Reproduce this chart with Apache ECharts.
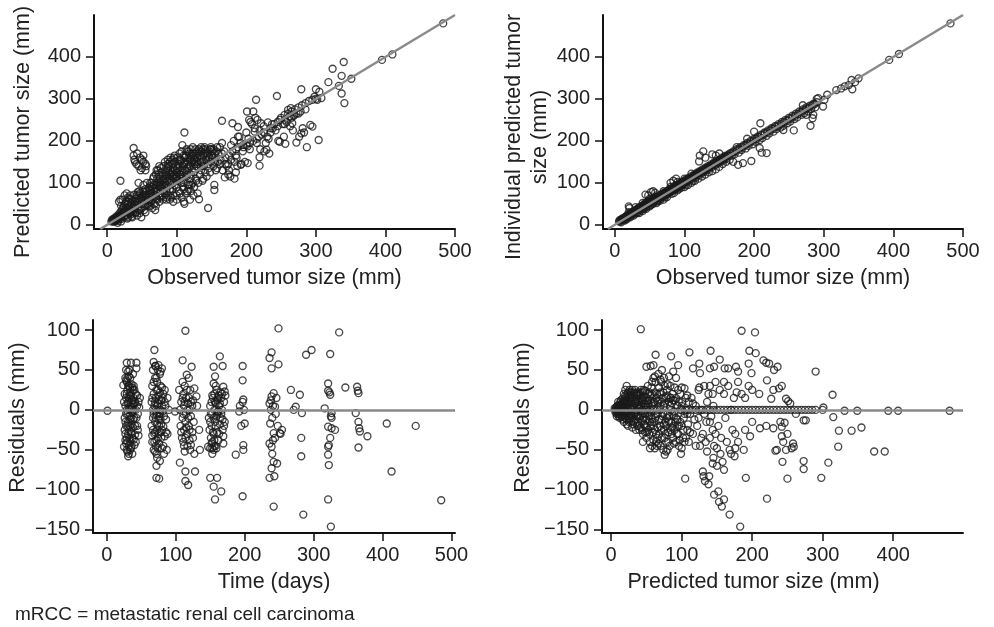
<!DOCTYPE html>
<html>
<head>
<meta charset="utf-8">
<script src="https://cdn.jsdelivr.net/npm/echarts@6/dist/echarts.min.js"></script>
<style>
  html, body { margin: 0; padding: 0; background: #fff; }
  #main { width: 994px; height: 627px; }
</style>
</head>
<body>
<div id="main"></div>
<script>
// [observed, predicted] tumor size (mm)
const predVsObs = [
  [6,8],[8,10],[10,12],[12,9],[14,15],[15,18],[16,10],[18,22],[20,14],[19,30],[17,55],[19,60],[20,45],[13,12],[9,7],[11,14],[16,16],[18,20],[20,25],[15,5],
  [22,20],[24,28],[25,35],[27,40],[28,22],[30,30],[30,55],[32,62],[33,70],[35,48],[36,38],[38,32],[22,60],[25,70],[28,75],[30,65],[34,25],[36,18],[38,45],[40,40],
  [26,50],[23,40],[31,44],[37,58],[39,72],[29,15],[33,33],[35,20],[24,18],[21,35],
  [40,55],[42,62],[44,48],[45,70],[46,80],[48,38],[50,50],[50,60],[52,72],[54,44],[55,85],[56,65],[58,58],[60,70],[41,30],[43,22],[47,28],[49,18],[53,35],[57,100],
  [45,100],[52,95],[59,45],[60,88],[44,78],[48,66],[51,82],[55,30],[58,48],[60,60],
  [38,183],[38,165],[39,155],[40,150],[42,145],[45,140],[47,160],[50,155],[52,150],[55,145],[50,135],[48,130],[55,130],[56,140],[43,170],[52,165],
  [62,75],[63,55],[65,90],[66,68],[68,80],[70,70],[70,95],[72,60],[73,85],[75,100],[76,75],[78,90],[80,82],[62,45],[65,40],[68,50],[72,110],[74,120],[77,65],[79,105],
  [64,100],[67,115],[71,130],[75,140],[78,125],[80,60],[69,35],[63,80],[76,95],[80,115],
  [82,95],[84,110],[85,130],[86,88],[88,140],[90,100],[90,150],[92,120],[94,85],[95,135],[96,160],[98,110],[100,125],[82,75],[85,65],[88,70],[91,80],[93,145],[97,95],[99,140],
  [100,60],[87,155],[95,55],[84,120],[89,125],[98,150],[100,105],[92,65],[86,105],[94,115],
  [102,140],[104,120],[105,150],[106,100],[108,130],[110,145],[110,55],[112,160],[114,115],[115,135],[116,95],[118,170],[120,140],[120,110],[122,150],[124,165],[125,125],
  [103,80],[107,65],[109,90],[113,75],[117,85],[119,60],[121,95],[123,100],[104,155],[111,50],[115,175],[124,70],[108,110],
  [126,145],[128,170],[130,160],[132,180],[134,150],[135,130],[136,175],[138,165],[140,185],[142,155],[144,170],[145,145],[148,180],[150,165],[152,175],[155,160],
  [158,185],[160,170],[127,110],[131,100],[133,120],[137,105],[139,140],[141,125],[143,115],[146,135],[149,150],[153,140],[156,130],[159,150],
  [162,185],[165,195],[168,175],[170,160],[172,140],[175,130],[178,190],[180,175],[182,200],[185,165],[188,185],[190,210],[192,195],[195,175],[198,150],[200,190],
  [200,220],[205,180],[208,240],[210,200],[212,230],[215,195],[218,210],[220,180],[163,155],[166,130],[174,120],[177,115],[183,150],[186,160],[193,145],[196,185],
  [203,205],[206,245],[213,255],[216,250],[219,225],[222,215],[174,145],[187,140],
  [225,235],[228,195],[230,210],[232,205],[235,220],[238,230],[240,240],[242,225],[245,245],[248,250],[250,255],[252,240],[255,250],[258,245],[260,265],[262,258],
  [265,270],[268,260],[270,275],[272,265],[275,280],[278,270],[280,285],[285,290],[290,295],[295,298],[300,300],[226,175],[233,170],[237,240],[246,200],[254,210],
  [263,235],[267,225],[276,210],[283,220],[292,238],[298,305],[302,298],
  [483,480],[410,406],[395,393],[351,348],[340,388],[324,372],[337,355],[318,340],[333,331],[337,313],[341,290],[308,302],[300,323],[305,317],[279,323],
  [304,202],[287,185],[295,234],[281,230],[272,196],[279,218],[266,242],[260,274],[264,278],[269,262],[255,262],[244,307],[248,198],[256,193],[231,244],
  [212,222],[214,298],[201,270],[210,270],[204,250],[221,242],[229,179],[219,161],[219,141],[202,147],[192,143],[185,125],[183,110],[169,113],[165,248],
  [188,233],[180,242],[188,210],[202,187],[154,83],[154,95],[132,61],[145,40],[111,220],[108,190],[19,105],
  [7,12],[9,14],[11,10],[12,18],[14,20],[16,24],[17,14],[19,18],[21,26],[23,30],[24,45],[26,32],[27,55],[29,48],[31,38],[32,28],[34,52],[35,60],[37,42],[39,50],
  [41,48],[42,70],[43,55],[46,58],[47,75],[49,62],[51,68],[53,78],[54,58],[56,72],[57,80],[59,66],[61,82],[62,92],[64,72],[66,85],[67,95],[69,88],[71,80],[72,100],
  [74,92],[75,110],[77,102],[79,95],[81,108],[83,100],[84,125],[86,118],[87,135],[89,110],[91,130],[92,105],[93,125],[95,145],[96,120],[97,130],[99,115],[101,135],
  [103,145],[105,130],[106,155],[107,120],[109,140],[111,150],[112,130],[113,165],[116,150],[117,160],[118,140],[119,155],[121,165],[122,130],[123,170],[125,150],
  [126,160],[128,140],[129,175],[130,145],[133,165],[134,175],[136,160],[137,150],[139,170],[141,180],[143,165],[146,175],[147,160],[150,180],[151,160],[154,170],
  [157,175],[30,18],[40,28],[50,40],[60,52],[70,62],[80,70],[90,85],[100,90],[110,100],[120,120],[20,8],[25,22],[35,30],[45,35],[55,48],[65,60],[75,68],[85,80],
  [95,100],[105,110],[115,120],[125,135],[135,140],[145,155],[155,150],[165,170],[175,165],[185,180],[195,190],[205,195],[215,205],[225,220],[235,230],[245,235],
  [255,240],[265,255],[275,265],[285,275],
  [62,100],[66,110],[70,120],[73,130],[77,135],[81,140],[83,150],[87,145],[91,160],[94,155],[97,165],[101,160],[104,170],[107,175],[110,165],[114,180],[117,175],
  [120,180],[123,185],[127,180],[131,170],[135,185],[138,180],[142,175],[149,185],[153,180],[90,120],[95,110],[100,115],[105,120],[110,125],[115,145],[120,160],
  [125,155],[130,150],[70,45],[75,55],[85,60],[95,70],[105,75],[115,80],[125,90],[130,75],[120,80],[100,70],[90,60],[110,85],[118,95],[128,105],[138,110],
  [148,125],[158,135],[162,145],[170,145],[178,155]
];

// [observed, individual predicted] tumor size (mm)
const ipredVsObs = [
  [6,8],[8,9],[10,12],[12,11],[13,16],[15,14],[16,20],[18,17],[19,24],[20,19],[22,23],[23,28],[24,22],[25,30],[26,27],[28,32],[29,26],[30,35],[14,10],[17,13],
  [20,44],[21,40],[11,15],[9,6],[27,22],
  [31,33],[32,38],[33,30],[34,40],[35,36],[36,42],[37,34],[38,44],[39,40],[40,46],[41,38],[42,48],[43,45],[44,52],[45,42],[46,50],[47,55],[48,46],[49,52],[50,58],
  [51,48],[52,55],[53,60],[54,51],[55,62],[56,54],[57,65],[58,58],[59,63],[60,56],[44,72],[48,70],[52,78],[55,80],[58,76],[35,28],[40,33],[45,38],[50,44],[55,50],[60,52],
  [61,65],[62,60],[63,68],[64,63],[65,70],[66,64],[67,72],[68,66],[69,75],[70,68],[71,76],[72,70],[73,78],[74,72],[75,80],[76,74],[77,82],[78,76],[79,85],[80,78],
  [81,86],[82,80],[83,88],[84,82],[85,92],[86,84],[87,90],[88,86],[89,95],[90,88],[91,96],[92,90],[93,100],[94,92],[95,98],[96,94],[97,102],[98,96],[99,104],[100,97],
  [80,100],[84,105],[88,110],[70,60],[75,66],[85,76],[90,82],[95,88],[100,90],[65,58],
  [102,108],[104,103],[106,112],[108,106],[110,116],[112,110],[114,120],[116,113],[118,124],[120,118],[122,128],[124,122],[126,132],[128,126],[130,136],[132,130],
  [134,140],[136,134],[138,144],[140,138],[142,148],[144,142],[146,152],[148,146],[150,155],[152,150],[154,160],[156,154],[158,164],[160,158],
  [105,95],[110,100],[115,105],[120,110],[125,115],[130,120],[135,125],[140,128],[145,132],[150,138],[155,145],[160,150],[122,165],[127,175],[121,151],[130,160],
  [140,168],[150,170],[145,165],
  [162,166],[165,170],[168,165],[170,175],[172,168],[175,180],[178,172],[180,185],[182,178],[185,190],[188,182],[190,195],[192,188],[195,200],[198,192],[200,205],
  [202,198],[205,210],[208,202],[210,215],[212,207],[215,220],[218,212],[220,225],[222,218],[225,230],[228,222],[230,235],[165,155],[170,150],[177,143],[184,147],
  [196,152],[208,183],[211,172],[218,171],[209,242],[200,222],[190,205],[175,185],
  [232,228],[235,240],[238,232],[240,245],[242,236],[245,250],[248,242],[250,255],[252,246],[255,260],[258,252],[260,265],[262,256],[265,270],[268,262],[270,275],
  [272,266],[275,280],[278,270],[280,284],[282,276],[285,288],[288,280],[290,292],[242,226],[257,225],[281,236],[284,254],[270,285],[275,262],[285,262],[290,300],
  [292,302],[299,282],[301,298],[305,310],
  [318,321],[325,325],[330,330],[336,333],[340,345],[341,323],[345,340],[350,349],[394,393],[408,407],[482,480],
  [7,11],[9,13],[11,13],[13,13],[15,19],[17,21],[19,21],[21,25],[23,25],[25,27],[27,31],[29,33],[31,36],[33,36],[35,39],[37,41],[39,43],[41,44],[43,48],[45,49],
  [47,51],[49,55],[51,55],[53,57],[55,59],[57,61],[59,66],[61,63],[63,66],[65,67],[67,70],[69,72],[71,73],[73,76],[75,77],[77,79],[79,82],[81,83],[83,86],[85,87],
  [87,88],[89,91],[91,93],[93,95],[95,96],[97,99],[99,101],[101,103],[103,106],[105,108],[107,109],[109,112],[111,113],[113,116],[115,117],[117,120],[119,121],
  [121,124],[123,126],[125,128],[127,129],[129,132],[131,133],[133,136],[135,137],[137,140],[139,141],[141,144],[143,146],[145,148],[147,149],[149,152],[151,153],
  [153,156],[155,157],[157,160],[159,161],[161,164],[163,165],[167,170],[171,173],[175,177],[179,181],[183,185],[187,189],[191,193],[195,197],[199,201],[203,205],
  [207,209],[211,213],[215,217],[219,221],[223,225],[227,229],[231,233],[235,236],[239,240],[243,245],[247,248],[251,252],[255,256],[259,260],[263,264],[267,268],
  [271,272],[275,276],[279,280],[283,284],[287,288],[20,30],[30,42],[40,52],[50,62],[60,70],[70,80],[80,90],[90,102],[100,110],[110,122],[22,18],[32,28],[42,38],
  [52,47],[62,56],[72,65],[82,74],[92,85],[102,94],[112,104]
];

// [time (days), residual (mm)]
const resVsTime = [
  [1,-1],
  [24,31],[25,-46],[26,20],[26,-10],[27,5],[27,-30],[28,37],[28,15],[28,-20],[29,59],[29,-50],[29,0],[30,25],[30,-5],[30,-40],[31,48],[31,-58],[31,10],[31,-15],
  [32,30],[32,-25],[32,2],[33,18],[33,-35],[33,-8],[34,22],[34,-12],[34,40],[35,59],[35,5],[35,-28],[36,12],[36,-18],[36,-45],[37,28],[37,-3],[38,8],[38,-22],
  [38,45],[39,-37],[39,15],[40,-10],[40,25],[41,-31],[41,10],[42,0],[42,-40],[43,59],[43,52],[44,-20],[44,18],[45,-5],[46,10],[46,-32],[47,3],[48,15],[30,-52],
  [33,50],[27,-38],[29,35],[35,-48],[37,-55],[32,42],[36,32],[40,-44],
  [25,10],[26,-25],[27,40],[27,-15],[28,-5],[28,50],[29,20],[29,-35],[30,8],[30,-20],[31,30],[31,-30],[32,-45],[32,15],[33,0],[33,-20],[34,28],[34,-40],[35,18],
  [35,-10],[36,-30],[36,2],[37,12],[37,-35],[38,25],[38,-12],[39,0],[39,30],[40,8],[41,-20],[42,20],[43,-10],[44,5],[45,-25],[30,40],[32,-55],[34,-50],[28,-42],
  [65,10],[65,-20],[66,30],[66,-40],[67,0],[67,-10],[68,60],[68,20],[68,-50],[69,75],[69,-30],[69,5],[70,-52],[70,40],[70,-15],[71,15],[71,-45],[72,-85],[72,-70],
  [72,25],[72,-5],[73,35],[73,-25],[74,50],[74,8],[74,-35],[75,56],[75,-12],[75,18],[76,-8],[76,-42],[77,-64],[77,22],[77,45],[78,0],[78,-28],[79,12],[79,-18],
  [80,52],[80,28],[80,-48],[81,-2],[82,-21],[82,20],[83,-55],[84,-33],[84,10],[85,5],[86,-12],[87,-50],[88,-30],[88,15],[90,0],[71,55],[73,-60],[76,-86],[78,48],
  [66,-32],[67,50],
  [66,15],[67,-25],[68,-5],[68,35],[69,-40],[70,10],[70,-28],[71,0],[71,-10],[72,40],[72,-38],[73,5],[73,-18],[74,25],[74,-48],[75,0],[75,-30],[76,12],[76,-20],
  [77,-5],[78,30],[78,-12],[79,-35],[80,5],[80,-25],[81,15],[82,-45],[83,-8],[84,25],[86,-28],[72,-55],[70,55],
  [99,-2],[105,25],[106,-66],[106,0],[107,-20],[108,10],[109,-35],[110,62],[110,-10],[111,20],[111,-40],[112,5],[112,-25],[113,30],[114,99],[114,-77],[114,-89],
  [114,-15],[115,-5],[115,15],[116,44],[116,-30],[117,-45],[118,-94],[118,8],[119,-20],[120,0],[120,-38],[121,25],[122,-8],[123,54],[124,-28],[125,12],[126,-15],
  [127,27],[127,-55],[128,-77],[130,17],[131,5],[134,-25],[135,-50],[110,35],[113,-52],[119,40],[122,-44],
  [108,-28],[110,15],[111,-5],[112,-45],[113,10],[114,-35],[115,-22],[116,25],[117,0],[118,-10],[119,15],[120,-25],[121,-50],[122,10],[124,5],[125,-35],
  [147,-46],[148,-10],[149,-25],[150,-85],[150,5],[150,-48],[151,-35],[152,10],[152,-20],[153,-5],[153,-40],[154,15],[155,54],[155,33],[155,-50],[155,-96],[155,-30],
  [156,0],[156,20],[157,42],[157,-112],[157,-15],[158,-45],[158,8],[159,-8],[159,25],[160,-85],[160,-28],[160,12],[161,-2],[162,18],[162,-38],[163,5],[164,67],
  [164,-18],[165,22],[165,-10],[166,-102],[166,15],[167,0],[168,55],[168,-25],[169,29],[169,-33],[169,-42],[170,10],[171,23],[171,-15],[172,18],[160,-5],[153,-55],[158,30],
  [150,-15],[151,-5],[152,-42],[153,18],[154,-28],[155,-10],[156,-38],[157,10],[158,-20],[159,-48],[161,15],[162,-2],[163,-30],[164,8],[166,-5],[167,20],[168,-12],
  [170,-20],[153,-48],[156,-45],
  [187,-56],[192,-2],[193,5],[197,55],[197,37],[197,10],[197,-108],[198,13],[198,-44],[198,-50],[200,-17],[199,0],[195,-20],
  [236,65],[236,-85],[236,-42],[236,8],[237,-17],[238,0],[239,72],[239,52],[239,-73],[239,-46],[239,17],[240,-10],[240,-55],[241,5],[242,-121],[242,-65],[242,-29],
  [242,21],[243,-83],[244,4],[244,-35],[245,-5],[246,15],[247,-67],[248,-20],[249,102],[249,57],[251,-29],[254,-25],[252,-30],[238,12],[241,-38],
  [267,25],[271,0],[274,4],[280,19],[282,-35],[282,-58],[283,-4],[285,-131],[289,69],[297,75],
  [316,2],[321,33],[321,24],[324,19],[324,70],[337,97],[326,-4],[326,-10],[321,-21],[326,-23],[331,-25],[324,-35],[322,-44],[321,-46],[321,-56],[322,-69],[321,-112],
  [325,-146],[323,22],[325,-8],
  [346,28],[363,29],[365,21],[361,-4],[365,-15],[366,-23],[367,-27],[365,-47],[378,-33],[364,24],
  [406,-17],[413,-77],[448,-20],[485,-113]
];

// [predicted tumor size (mm), residual (mm)]
const resVsPred = [
  [6,0],[7,3],[8,-5],[9,5],[10,-2],[10,2],[11,-8],[12,0],[13,6],[14,-3],[15,1],[16,-6],[17,10],[18,4],[19,-4],[20,18],[21,8],[22,-2],[23,20],[24,12],[25,-8],
  [26,25],[27,15],[28,-5],[29,22],[30,0],[12,-6],[15,-9],[20,-10],[25,-15],[28,10],[22,30],[18,20],[26,-12],[30,15],
  [32,-15],[33,20],[34,8],[35,-2],[36,14],[37,-20],[38,18],[39,4],[40,-10],[41,22],[42,-22],[43,10],[44,0],[45,-5],[46,16],[47,-18],[48,24],[49,6],[50,-12],
  [51,3],[52,20],[53,-25],[54,-8],[55,12],[56,-3],[57,28],[58,-15],[59,8],[60,-20],[35,-25],[40,20],[45,-30],[50,-35],[55,-40],[58,-45],[60,40],[62,42],[56,55],
  [60,-38],[65,-45],[48,-28],[52,30],[44,15],[38,-8],
  [61,10],[62,-10],[63,35],[64,-30],[65,20],[66,-5],[67,-42],[68,28],[69,0],[70,-20],[71,35],[72,-35],[73,15],[74,-50],[75,5],[76,30],[77,-15],[78,-40],[79,25],
  [80,-5],[81,-28],[82,10],[83,-45],[84,30],[85,0],[86,-22],[87,20],[88,-35],[89,-8],[90,28],[91,-15],[92,15],[93,-30],[94,5],[95,25],[96,-20],[97,-38],[98,0],
  [99,-55],[100,-48],[101,10],[102,-25],[103,-10],[104,27],[105,-86],[106,-35],[107,0],[108,18],[109,-18],[110,-40],[76,-56],[89,-42],[70,38],[80,32],[90,-2],
  [100,28],[95,-30],[85,-15],[75,-25],[65,-35],
  [5,2],[6,-3],[7,-1],[8,4],[9,-4],[9,1],[10,6],[11,2],[11,-3],[12,4],[13,-2],[13,10],[14,3],[15,8],[15,-4],[16,2],[16,14],[17,-2],[17,5],[18,-8],[18,12],[19,8],
  [19,0],[20,4],[20,25],[21,-5],[21,15],[22,10],[22,-12],[23,5],[23,-4],[24,0],[24,22],[25,3],[25,18],[26,-5],[26,8],[27,-10],[27,22],[28,2],[28,-15],[29,12],
  [29,-6],[30,-10],[30,25],[31,5],[31,-18],[32,12],[33,-5],[33,3],[34,-12],[34,25],[35,10],[36,-8],[36,0],[37,5],[37,22],[38,-15],[38,10],[39,-20],[40,2],[40,12],
  [41,-8],[42,5],[42,15],[43,-15],[44,-25],[45,12],[45,22],[46,-10],[46,4],[47,8],[48,-5],[48,12],[49,-20],[50,0],[50,15],[51,-28],[52,-5],[53,8],[54,22],[55,-15],
  [55,0],[56,18],[57,-10],[58,5],[59,-28],[60,10],[61,-15],[62,22],[63,-5],[64,15],[65,0],[66,-22],[67,12],[68,-12],[69,20],[70,5],[71,-25],[72,10],[73,-8],[74,22],
  [75,-18],[76,8],[77,-30],[78,15],[79,-10],[80,18],[81,-40],[82,-15],[83,5],[84,-25],[85,15],[86,-30],[87,-5],[88,12],[90,-25],[92,-10],[94,-20],[96,10],[98,-15],
  [100,5],[102,-35],[104,-5],[106,15],[108,-25],[110,10],[45,-40],[55,-48],[62,-48],[70,-45],[78,-52],[67,45],[72,50],[82,42],[88,48],[92,40],[75,40],[58,35],
  [8,-8],[10,10],[12,-10],[14,12],[16,-12],[18,-15],[20,12],[22,-18],[24,-20],[26,15],[28,18],[30,-22],[32,22],[34,-5],[36,20],[38,2],[40,-25],[42,25],[44,-12],
  [46,25],[48,0],[50,-22],[52,12],[54,-30],[56,-20],[58,20],[60,0],[62,-25],[64,-40],[66,10],[68,-30],[70,22],[72,-12],[74,-5],[76,-35],[78,-20],[80,-50],[82,-8],
  [84,15],[86,8],[88,-20],[90,12],[92,-40],[94,-12],[96,-45],[98,20],[100,-20],[104,-40],[108,-5],[112,-28],[116,8],[120,-45],[124,-10],[128,-35],[132,-5],[136,10],
  [140,-15],[144,20],[148,-30],
  [112,-5],[114,15],[116,-30],[118,-12],[120,5],[122,-20],[124,25],[126,-45],[128,0],[130,-30],[132,30],[134,-40],[135,-15],[136,-52],[138,20],[140,-35],[142,-8],
  [144,-25],[145,5],[146,-45],[148,35],[150,-48],[152,-20],[154,25],[155,-55],[156,-35],[158,-65],[160,20],[162,-10],[164,-40],[166,30],[168,-50],[170,0],[172,-25],
  [174,15],[175,-58],[176,-30],[178,22],[180,-40],[130,-77],[131,-83],[133,-89],[139,-83],[138,-93],[144,-67],[146,-106],[152,-102],[153,-115],[157,-121],[160,-112],
  [168,-131],[183,-146],[150,-70],[145,-60],[160,-75],[170,-55],[125,28],[160,35],[140,30],
  [42,101],[50,54],[60,56],[63,69],[85,67],[95,56],[111,72],[116,52],[125,58],[126,46],[141,74],[140,52],[146,54],[154,63],[161,52],[166,52],[177,54],[180,48],
  [185,99],[204,97],[196,74],[205,71],[195,58],[199,46],[216,62],[220,59],[224,58],[231,50],[236,54],[221,37],[227,14],[242,30],[238,27],[248,14],[251,11],
  [290,48],[314,19],
  [191,-85],[221,-111],[243,-65],[250,-86],[273,-64],[273,-74],[298,-85],[308,-66],[322,-46],[323,-26],[341,-26],[355,-22],[373,-52],[388,-52],[315,-9],[273,-13],
  [276,-13],[235,-50],[233,-51],[248,-50],[256,-48],[259,-46],[244,-40],[242,-33],[211,-23],[230,-23],[242,-21],[246,-16],[197,-33],
  [100,0],[110,0],[120,0],[130,0],[140,0],[150,0],[160,0],[175,0],[185,0],[195,0],[205,0],[215,0],[225,0],[235,0],[245,0],[255,0],[265,0],[275,0],[285,0],[300,0],
  [105,0],[115,0],[125,0],[135,0],[145,0],[155,0],[165,0],[170,0],[180,0],[190,0],[200,0],[210,0],[220,0],[230,0],[240,0],[250,0],[260,0],[270,0],[280,0],[290,0],
  [301,3],[331,-1],[349,-1],[393,-1],[407,-1],[480,-1],
  [185,20],[190,-25],[195,30],[200,-15],[210,20],[220,-20],[230,25],[240,-15],[250,-30],[258,-42],[262,-5],[254,8],[190,15],[200,25],[180,35],[188,-50],[176,-48]
];

// line of identity for the observed-vs-predicted panels
const identityLine = [[-10,-10],[500,500]];

const sizeTicksX = [0,100,200,300,400,500];
const sizeTicksY = [0,100,200,300,400];
const timeTicks = [0,100,200,300,400,500];
const predTicks = [0,100,200,300,400];
const residTicks = [-150,-100,-50,0,50,100];

var font = "'Liberation Sans', Arial, sans-serif";
var myChart = echarts.init(document.getElementById('main'));

function makeAxis(gridIndex, min, max, ticks, name, nameGap, isY, pad) {
  return {
    type: 'value', gridIndex: gridIndex, min: min, max: max,
    splitLine: { show: false },
    axisLine: { show: true, onZero: false, lineStyle: { color: '#111', width: 2 } },
    axisTick: { show: true, customValues: ticks, length: 8, lineStyle: { color: '#111', width: 1.5 } },
    axisLabel: {
      customValues: ticks, color: '#222', fontSize: 20, fontFamily: font, margin: isY ? 13 : 12,
      formatter: function (v) { return String(v).replace('-', '\u2212'); }
    },
    name: name, nameLocation: 'middle', nameGap: nameGap,
    nameTextStyle: { color: '#222', fontSize: 21.5, fontFamily: font, lineHeight: 26, padding: pad || 0 }
  };
}

function dots(xi, data) {
  return {
    type: 'scatter', xAxisIndex: xi, yAxisIndex: xi, data: data,
    symbol: 'circle', symbolSize: 7, silent: true, z: 2,
    itemStyle: { color: 'rgba(0,0,0,0)', borderColor: '#1a1a1a', borderWidth: 1.35 }
  };
}

function refLine(xi, data) {
  return {
    type: 'line', xAxisIndex: xi, yAxisIndex: xi, data: data,
    symbol: 'none', silent: true, z: 5,
    lineStyle: { color: '#8a8a8a', width: 2.5 }
  };
}

function zeroLine(xi, data) {
  var s = dots(xi, data);
  s.markLine = {
    silent: true, symbol: 'none', label: { show: false }, z: 5,
    lineStyle: { color: '#8a8a8a', width: 2.5, type: 'solid' },
    data: [{ yAxis: 0 }]
  };
  return s;
}

var option = {
  animation: false,
  backgroundColor: '#fff',
  grid: [
    { left: 94, top: 15, width: 361, height: 214, outerBoundsMode: 'none', containLabel: false },
    { left: 603, top: 15, width: 360, height: 214, outerBoundsMode: 'none', containLabel: false },
    { left: 93, top: 320, width: 362, height: 213, outerBoundsMode: 'none', containLabel: false },
    { left: 602, top: 320, width: 361, height: 213, outerBoundsMode: 'none', containLabel: false }
  ],
  xAxis: [
    makeAxis(0, -19, 500, sizeTicksX, 'Observed tumor size (mm)', 36, false),
    makeAxis(1, -17, 500, sizeTicksX, 'Observed tumor size (mm)', 36, false),
    makeAxis(2, -20, 505, timeTicks, 'Time (days)', 36, false),
    makeAxis(3, -13, 499, predTicks, 'Predicted tumor size (mm)', 36, false, [0, 58, 0, 0])
  ],
  yAxis: [
    makeAxis(0, -10, 500, sizeTicksY, 'Predicted tumor size (mm)', 58, true, [0, 20, 0, 0]),
    makeAxis(1, -10, 500, sizeTicksY, 'Individual predicted tumor\nsize (mm)', 50, true, [0, 30, 0, 0]),
    makeAxis(2, -154, 112.5, residTicks, 'Residuals (mm)', 60, true, [0, 0, 0, 18]),
    makeAxis(3, -154, 112.5, residTicks, 'Residuals (mm)', 66, true, [0, 0, 0, 18])
  ],
  graphic: [
    { type: 'text', left: 15, top: 605,
      style: { text: 'mRCC = metastatic renal cell carcinoma', fill: '#222', fontSize: 19, fontFamily: font } }
  ],
  series: [
    dots(0, predVsObs),
    refLine(0, identityLine),
    dots(1, ipredVsObs),
    refLine(1, identityLine),
    zeroLine(2, resVsTime),
    zeroLine(3, resVsPred)
  ]
};

myChart.setOption(option);
</script>
</body>
</html>
